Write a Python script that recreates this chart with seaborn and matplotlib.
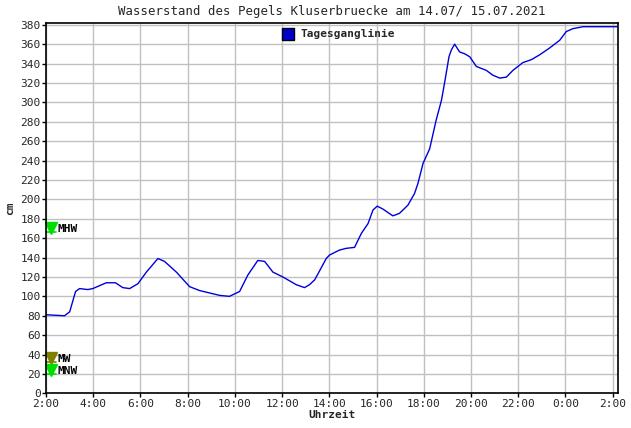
import pandas as pd
import seaborn as sns
import matplotlib.pyplot as plt
from matplotlib.lines import Line2D

# hours since midnight 14.07 (values > 24 are on 15.07)
hours = [2.0, 2.78, 3.0, 3.25, 3.42, 3.77, 3.98, 4.55, 4.94, 5.25, 5.54, 5.89,
         6.25, 6.74, 7.02, 7.52, 8.08, 8.5, 9.35, 9.77, 10.2, 10.55, 10.97,
         11.26, 11.61, 12.03, 12.6, 12.95, 13.16, 13.38, 13.56, 13.87, 14.01,
         14.43, 14.72, 15.07, 15.36, 15.64, 15.85, 16.03, 16.27, 16.69, 16.97,
         17.33, 17.61, 17.75, 17.97, 18.25, 18.53, 18.75, 18.89, 19.07, 19.17,
         19.31, 19.52, 19.74, 19.95, 20.23, 20.65, 20.93, 21.22, 21.5, 21.78,
         22.2, 22.56, 22.91, 23.33, 23.76, 24.04, 24.32, 24.75, 26.2]
level_cm = [81, 80, 84, 105, 108, 107, 108, 114, 114, 109, 108, 113,
            125, 139, 136, 125, 110, 106, 101, 100, 105, 122, 137,
            136, 125, 120, 112, 109, 112, 117, 125, 139, 142.6,
            147.7, 149.5, 150.5, 165, 175, 189, 193, 190, 183, 185.5,
            194, 206, 216, 237, 252, 282, 302, 321, 347, 354,
            360, 352, 350, 347, 337, 333, 328, 325, 326, 333,
            341, 344, 349, 356, 364, 373, 376, 378, 378]

# reference marks on the left edge
mark_names = ['MHW', 'MW', 'MNW']
mark_values = [166, 32, 20]
mark_colors = ['#00dd00', '#808000', '#00dd00']

tick_hours = list(range(2, 27, 2))
tick_labels = [f"{h % 24}:00" for h in tick_hours]
y_ticks = list(range(0, 381, 20))

df = pd.DataFrame({'hour': hours, 'cm': level_cm})

sns.set_theme(style="whitegrid")
plt.rcParams['font.family'] = ['DejaVu Sans Mono']

fig = plt.figure(figsize=(6.31, 4.28), dpi=100)
ax = fig.add_axes([0.073, 0.081, 0.906, 0.865])

sns.lineplot(data=df, x='hour', y='cm', ax=ax, color='#0000dd', linewidth=1.0)

ax.set_xlim(2, 26.22)
ax.set_ylim(0, 381.7)
ax.set_xticks(tick_hours)
ax.set_xticklabels(tick_labels)
ax.set_yticks(y_ticks)
ax.tick_params(axis='both', labelsize=8, length=3, width=1, color='black', pad=1,
               bottom=True, left=True)
ax.grid(True, color='#c0c0c0', linewidth=1)
for s in ax.spines.values():
    s.set_color('black')
    s.set_linewidth(1.2)

ax.set_xlabel('Uhrzeit', fontsize=8, fontweight='bold', labelpad=1)
ax.set_ylabel('cm', fontsize=8, fontweight='bold', labelpad=4)
ax.set_title('Wasserstand des Pegels Kluserbruecke am 14.07/ 15.07.2021',
             fontsize=8.9, pad=6)

for name, val, col in zip(mark_names, mark_values, mark_colors):
    ax.plot([2.0, 2.4], [val, val], color=col, linewidth=1.2, clip_on=False)
    ax.plot(2.22, val + 4.5, marker='v', color=col, markersize=8, clip_on=False)
    ax.text(2.5, val + 3.5, name, fontsize=8, fontweight='bold', va='center',
            ha='left', color='black')

handle = Line2D([], [], marker='s', linestyle='none', markersize=9,
                markerfacecolor='#0000cc', markeredgecolor='black')
ax.legend([handle], ['Tagesganglinie'], loc='upper center',
          bbox_to_anchor=(0.507, 1.01), frameon=False, handletextpad=0.05,
          prop={'weight': 'bold', 'size': 8, 'family': 'DejaVu Sans Mono'})

fig.savefig('out.png', dpi=100)
